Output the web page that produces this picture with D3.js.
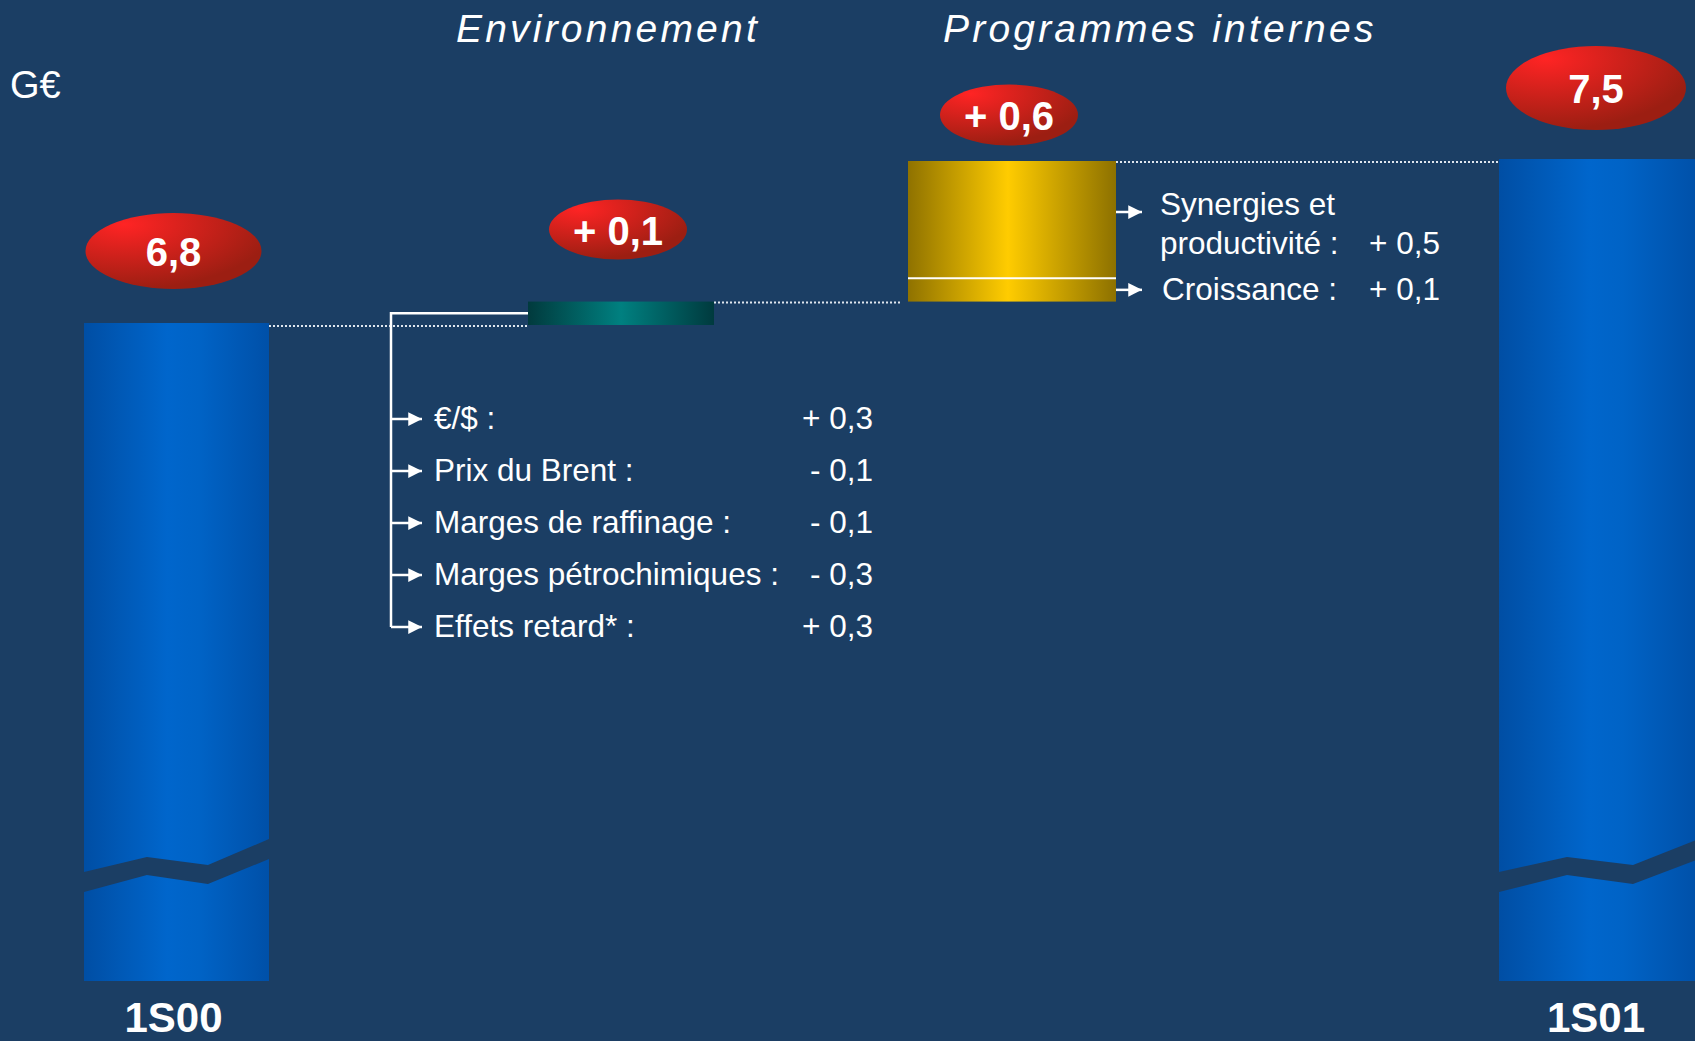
<!DOCTYPE html>
<html>
<head>
<meta charset="utf-8">
<script src="https://cdn.jsdelivr.net/npm/d3@7"></script>
<style>
  html, body { margin: 0; padding: 0; background: #1b3e64; }
  svg { display: block; }
  text { font-family: "Liberation Sans", Arial, Helvetica, sans-serif; fill: #ffffff; }
</style>
</head>
<body>
<div id="chart"></div>
<script>
// ---------------- DATA ----------------
const categories = ["1S00", "Environnement", "Programmes internes", "1S01"];
const startValue = 6.8;
const endValue = 7.5;
const envDelta = 0.1;
const progLabels = ["Croissance :", "Synergies et\nproductivité :"];
const progValues = [0.1, 0.5];
const envLabels = ["€/$ :", "Prix du Brent :", "Marges de raffinage :", "Marges pétrochimiques :", "Effets retard* :"];
const envValues = [0.3, -0.1, -0.1, -0.3, 0.3];
const badgeLabels = ["6,8", "+ 0,1", "+ 0,6", "7,5"];
const barLabels = ["1S00", "1S01"];
const unitLabel = "G€";
const sectionTitles = ["Environnement", "Programmes internes"];

// ---------------- LAYOUT ----------------
const W = 1695, H = 1041;
const fmt = v => (v >= 0 ? "+ " : "- ") + Math.abs(v).toFixed(1).replace(".", ",");

const svg = d3.select("#chart").append("svg").attr("width", W).attr("height", H);
svg.append("rect").attr("width", W).attr("height", H).attr("fill", "#1b3e64");

const y = d3.scaleLinear().domain([4.0, 7.5]).range([981, 161]);
const xLeft = d3.scaleOrdinal().domain(categories).range([84, 528, 908, 1499]);
const xWidth = d3.scaleOrdinal().domain(categories).range([185, 186, 208, 200]);
const cx = c => xLeft(c) + xWidth(c) / 2;

// gradients
const defs = svg.append("defs");
function hGrad(id, stops) {
  const g = defs.append("linearGradient").attr("id", id).attr("x1", "0%").attr("x2", "100%").attr("y1", "0%").attr("y2", "0%");
  stops.forEach(s => g.append("stop").attr("offset", s[0]).attr("stop-color", s[1]));
}
hGrad("gBlue", [["0%", "#004ea4"], ["45%", "#0066cc"], ["62%", "#0063c6"], ["100%", "#0050a8"]]);
hGrad("gTeal", [["0%", "#013a3d"], ["50%", "#008080"], ["100%", "#003a3e"]]);
hGrad("gGold", [["0%", "#8f7200"], ["48%", "#ffcc00"], ["100%", "#8d7100"]]);
const rg = defs.append("radialGradient").attr("id", "gRed").attr("cx", "22%").attr("cy", "15%").attr("r", "85%").attr("fx", "22%").attr("fy", "15%");
rg.append("stop").attr("offset", "0%").attr("stop-color", "#ff2424");
rg.append("stop").attr("offset", "100%").attr("stop-color", "#9c1e12");

defs.append("marker").attr("id", "arrow").attr("viewBox", "0 0 10 10").attr("refX", 10).attr("refY", 5)
  .attr("markerWidth", 6.5).attr("markerHeight", 5.5).attr("markerUnits", "strokeWidth").attr("orient", "auto")
  .append("path").attr("d", "M0,0 L10,5 L0,10 Z").attr("fill", "#ffffff");

// ---------------- BARS ----------------
const totals = [
  { cat: categories[0], v0: 4.0, v1: startValue },
  { cat: categories[3], v0: 4.0, v1: endValue }
];
svg.selectAll("rect.total").data(totals).join("rect")
  .attr("class", "total")
  .attr("x", d => xLeft(d.cat)).attr("width", d => xWidth(d.cat))
  .attr("y", d => y(d.v1) - 2).attr("height", d => y(d.v0) - y(d.v1) + 2)
  .attr("fill", "url(#gBlue)");

// axis break zigzag (background coloured band)
const breakUpper = [[0, 872], [0.34, 857], [0.67, 865], [1, 839]];
const breakLower = [[0, 892], [0.34, 875], [0.67, 884], [1, 859]];
svg.selectAll("path.break").data(totals).join("path")
  .attr("class", "break")
  .attr("d", d => {
    const x0 = xLeft(d.cat), w = xWidth(d.cat);
    const up = breakUpper.map(p => [x0 + p[0] * w, p[1]]);
    const lo = breakLower.slice().reverse().map(p => [x0 + p[0] * w, p[1]]);
    return d3.line()(up.concat(lo)) + "Z";
  })
  .attr("fill", "#1b3e64");

// environment bar
const envTop = startValue + envDelta;
svg.append("rect")
  .attr("x", xLeft(categories[1])).attr("width", xWidth(categories[1]))
  .attr("y", y(envTop)).attr("height", y(startValue) - y(envTop))
  .attr("fill", "url(#gTeal)");

// programme bar (stacked segments)
let acc = envTop;
const progSegs = progValues.map((v, i) => { const s = { v0: acc, v1: acc + v, label: progLabels[i], value: v }; acc += v; return s; });
svg.selectAll("rect.prog").data(progSegs).join("rect")
  .attr("class", "prog")
  .attr("x", xLeft(categories[2])).attr("width", xWidth(categories[2]))
  .attr("y", d => y(d.v1)).attr("height", d => y(d.v0) - y(d.v1))
  .attr("fill", "url(#gGold)");
svg.append("line")
  .attr("x1", xLeft(categories[2])).attr("x2", xLeft(categories[2]) + xWidth(categories[2]))
  .attr("y1", y(progSegs[0].v1)).attr("y2", y(progSegs[0].v1))
  .attr("stroke", "#ffffff").attr("stroke-width", 2);

// dotted connectors
const dots = [
  { x1: xLeft(categories[0]) + xWidth(categories[0]), x2: xLeft(categories[1]), v: startValue },
  { x1: xLeft(categories[1]) + xWidth(categories[1]), x2: xLeft(categories[2]) - 6, v: envTop },
  { x1: xLeft(categories[2]) + xWidth(categories[2]), x2: xLeft(categories[3]), v: endValue }
];
svg.selectAll("line.dot").data(dots).join("line")
  .attr("class", "dot")
  .attr("x1", d => d.x1).attr("x2", d => d.x2)
  .attr("y1", d => y(d.v) + 1).attr("y2", d => y(d.v) + 1)
  .attr("stroke", "#dfe6ee").attr("stroke-width", 2).attr("stroke-dasharray", "2,2");

// ---------------- ENVIRONMENT DETAIL LIST ----------------
const listX = 391, rowBase = 429, rowStep = 52;
const envMidY = (y(startValue) + y(envTop)) / 2;
const lastArrowY = rowBase + (envLabels.length - 1) * rowStep - 10;
svg.append("path")
  .attr("d", `M${xLeft(categories[1])},${envMidY} H${listX} V${lastArrowY}`)
  .attr("fill", "none").attr("stroke", "#ffffff").attr("stroke-width", 2.5);
const rows = svg.selectAll("g.row").data(envLabels.map((l, i) => ({ l, v: envValues[i], i }))).join("g").attr("class", "row");
rows.append("line")
  .attr("x1", listX).attr("x2", 422)
  .attr("y1", d => rowBase + d.i * rowStep - 10).attr("y2", d => rowBase + d.i * rowStep - 10)
  .attr("stroke", "#ffffff").attr("stroke-width", 2.5).attr("marker-end", "url(#arrow)");
rows.append("text").attr("x", 434).attr("y", d => rowBase + d.i * rowStep)
  .attr("font-size", 31.5).text(d => d.l);
rows.append("text").attr("x", 873).attr("y", d => rowBase + d.i * rowStep)
  .attr("font-size", 31.5).attr("text-anchor", "end").text(d => fmt(d.v));

// ---------------- PROGRAMME DETAILS ----------------
const gx = xLeft(categories[2]) + xWidth(categories[2]);
// Synergies (upper segment)
svg.append("line").attr("x1", gx).attr("x2", gx + 26).attr("y1", 212).attr("y2", 212)
  .attr("stroke", "#ffffff").attr("stroke-width", 2.5).attr("marker-end", "url(#arrow)");
const synLines = progLabels[1].split("\n");
svg.append("text").attr("x", 1160).attr("y", 215).attr("font-size", 31.5).text(synLines[0]);
svg.append("text").attr("x", 1160).attr("y", 254).attr("font-size", 31.5).text(synLines[1]);
svg.append("text").attr("x", 1440).attr("y", 254).attr("font-size", 31.5).attr("text-anchor", "end").text(fmt(progValues[1]));
// Croissance (lower segment)
const crY = (y(progSegs[0].v0) + y(progSegs[0].v1)) / 2;
svg.append("line").attr("x1", gx).attr("x2", gx + 26).attr("y1", crY).attr("y2", crY)
  .attr("stroke", "#ffffff").attr("stroke-width", 2.5).attr("marker-end", "url(#arrow)");
svg.append("text").attr("x", 1162).attr("y", 300).attr("font-size", 31.5).text(progLabels[0]);
svg.append("text").attr("x", 1440).attr("y", 300).attr("font-size", 31.5).attr("text-anchor", "end").text(fmt(progValues[0]));

// ---------------- BADGES ----------------
const badgeTops = [startValue, envTop, endValue, endValue];
const badgeLayout = [
  { dy: 74, rx: 88, ry: 38 },
  { dy: 72, rx: 69, ry: 30 },
  { dy: 46, rx: 69, ry: 30.5 },
  { dy: 73, rx: 90, ry: 42 }
];
const badges = svg.selectAll("g.badge").data(categories.map((c, i) => ({ c, i }))).join("g").attr("class", "badge")
  .attr("transform", d => `translate(${cx(d.c) - 3},${y(badgeTops[d.i]) - badgeLayout[d.i].dy})`);
badges.append("ellipse").attr("rx", d => badgeLayout[d.i].rx).attr("ry", d => badgeLayout[d.i].ry).attr("fill", "url(#gRed)");
badges.append("text").attr("text-anchor", "middle").attr("y", 15).attr("font-size", 40).attr("font-weight", "bold")
  .text(d => badgeLabels[d.i]);

// ---------------- LABELS ----------------
svg.selectAll("text.cat").data([categories[0], categories[3]]).join("text")
  .attr("class", "cat").attr("x", d => cx(d) - 3).attr("y", 1032).attr("text-anchor", "middle")
  .attr("font-size", 42).attr("font-weight", "bold").text((d, i) => barLabels[i]);

svg.append("text").attr("x", 10).attr("y", 98).attr("font-size", 38).text(unitLabel);

svg.selectAll("text.title").data(sectionTitles).join("text")
  .attr("class", "title").attr("x", (d, i) => [456, 943][i]).attr("y", 42)
  .attr("font-size", 39).attr("font-style", "italic").attr("letter-spacing", 3.2).text(d => d);
</script>
</body>
</html>
